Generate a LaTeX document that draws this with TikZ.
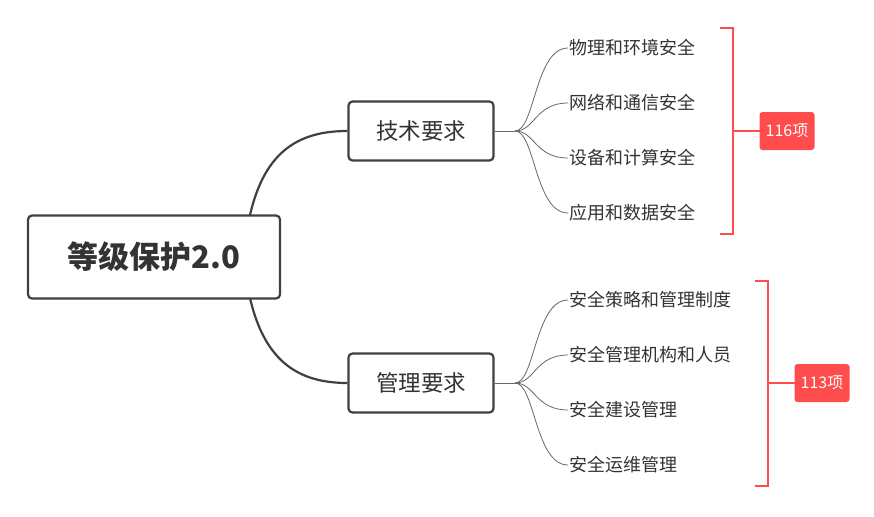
\documentclass[tikz,border=0pt]{standalone}
\usepackage{fontspec}
\setmainfont{Noto Sans CJK SC}
\begin{document}
\begin{tikzpicture}[x=1pt,y=-1pt,
  box/.style={draw=black!75,line width=2.2pt,rounded corners=4pt,fill=white,inner sep=0pt},
  leaf/.style={anchor=west,font=\fontsize{18}{20}\selectfont,text=black!80,inner sep=1pt},
  badge/.style={fill=red!70!white,rounded corners=3pt,text=white,font=\fontsize{16}{18}\selectfont,minimum width=55pt,minimum height=38pt,inner sep=0pt},
  thick1/.style={draw=black!75,line width=2.2pt},
  thin1/.style={draw=black!60,line width=0.8pt},
  br/.style={draw=red!70!white,line width=1.6pt}]
\useasboundingbox (0,0) rectangle (874,516);
\node[box,minimum width=252pt,minimum height=83pt,font=\fontsize{31}{34}\selectfont\bfseries,text=black!80] (root) at (154,257) {等级保护2.0};
\node[box,minimum width=145pt,minimum height=59pt,font=\fontsize{22.5}{26}\selectfont,text=black!80] (tech) at (421,131) {技术要求};
\node[box,minimum width=145pt,minimum height=59pt,font=\fontsize{22.5}{26}\selectfont,text=black!80] (mgmt) at (421,383) {管理要求};
\draw[thick1] (250,215) .. controls (265,150) and (300,131) .. (tech.west);
\draw[thick1] (250,298) .. controls (265,363) and (300,383) .. (mgmt.west);
\coordinate (tj) at (515,131);
\coordinate (mj) at (515,383);
\draw[thin1] (tech.east) -- (tj);
\draw[thin1] (mgmt.east) -- (mj);
\foreach \t/\y/\n in {物理和环境安全/48/a,网络和通信安全/103/b,设备和计算安全/158/c,应用和数据安全/213/d}{
  \node[leaf] (t\n) at (568,\y) {\t};
  \draw[thin1] (tj) .. controls (535,131) and (535,\y) .. (t\n.west);
}
\foreach \t/\y/\n in {安全策略和管理制度/300/a,安全管理机构和人员/355/b,安全建设管理/410/c,安全运维管理/465/d}{
  \node[leaf] (m\n) at (568,\y) {\t};
  \draw[thin1] (mj) .. controls (535,383) and (535,\y) .. (m\n.west);
}
\draw[br] (720,28) -- (733,28) -- (733,234) -- (720,234);
\draw[br] (733,131) -- (760,131);
\draw[br] (755,281) -- (768,281) -- (768,486) -- (755,486);
\draw[br] (768,383) -- (795,383);
\node[badge] (b1) at (787,131) {116项};
\node[badge] (b2) at (822,383) {113项};
\end{tikzpicture}
\end{document}
